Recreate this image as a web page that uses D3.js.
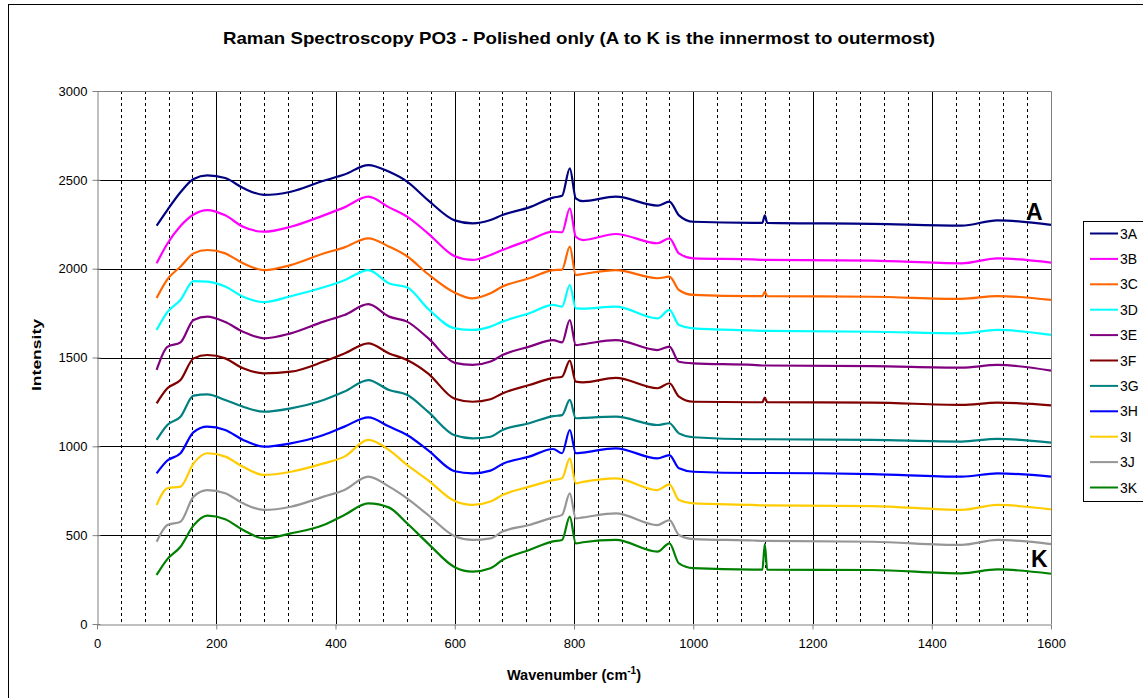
<!DOCTYPE html>
<html><head><meta charset="utf-8">
<script src="https://cdn.jsdelivr.net/npm/d3@7"></script>
<style>body{margin:0;background:#fff;} svg{display:block;font-family:Arial,"Liberation Sans",sans-serif;}</style>
</head><body><svg id="c" width="1143" height="698"></svg>
<script>
const wavenumbers = [100,118,140,162,185,215,245,280,325,380,415,455,490,520,555,600,630,660,680,725,765,780,793,803,815,870,940,960,976,1000,1100,1116,1120,1124,1300,1450,1510,1600];
const s3A = [2242,2330,2430,2505,2525,2510,2454,2415,2433,2495,2530,2583,2545,2490,2386,2272,2255,2274,2302,2345,2400,2410,2565,2396,2380,2405,2355,2377,2300,2264,2258,2258,2300,2258,2252,2242,2272,2246];
const s3B = [2030,2140,2240,2305,2330,2300,2236,2208,2236,2300,2345,2405,2345,2293,2199,2070,2049,2077,2105,2161,2208,2205,2340,2180,2161,2195,2143,2171,2086,2058,2052,2050,2050,2050,2045,2030,2058,2034];
const s3C = [1835,1940,2011,2086,2105,2086,2030,1992,2020,2085,2120,2171,2124,2070,1970,1865,1833,1861,1899,1946,1992,1995,2124,1964,1970,1992,1946,1955,1880,1852,1845,1845,1870,1845,1842,1830,1846,1824];
const s3D = [1655,1755,1824,1930,1927,1899,1842,1812,1845,1895,1935,1992,1917,1895,1775,1664,1655,1674,1702,1749,1796,1786,1908,1777,1775,1786,1720,1768,1683,1664,1652,1650,1650,1650,1645,1636,1655,1627];
const s3E = [1430,1560,1585,1711,1730,1700,1645,1608,1636,1702,1739,1800,1730,1702,1610,1470,1458,1477,1514,1561,1598,1585,1711,1570,1575,1598,1542,1561,1476,1467,1458,1455,1455,1455,1452,1443,1458,1426];
const s3F = [1242,1327,1373,1495,1514,1495,1439,1411,1420,1477,1523,1580,1523,1486,1411,1268,1251,1265,1298,1345,1385,1392,1482,1364,1360,1385,1327,1355,1280,1251,1248,1248,1275,1248,1246,1233,1246,1231];
const s3G = [1036,1120,1167,1285,1292,1261,1223,1195,1214,1261,1308,1373,1317,1290,1195,1062,1045,1054,1092,1130,1170,1176,1261,1158,1160,1167,1120,1130,1073,1051,1040,1040,1040,1040,1036,1027,1042,1021];
const s3H = [848,920,961,1080,1111,1092,1036,998,1017,1064,1111,1163,1111,1064,979,860,848,863,901,942,985,961,1092,961,965,989,932,951,876,857,850,850,850,850,844,829,848,829];
const s3I = [670,764,773,904,961,942,885,839,857,904,942,1036,979,895,810,692,670,689,726,773,810,820,932,792,800,820,754,786,698,679,670,668,668,668,664,642,670,645];
const s3J = [463,557,576,717,754,736,679,642,660,717,754,829,773,707,614,494,473,482,520,557,600,614,735,595,600,623,557,585,501,478,470,468,468,468,463,445,473,450];
const s3K = [276,365,435,555,610,590,529,482,510,557,614,679,655,567,454,320,295,314,360,417,465,473,604,454,460,473,407,454,341,314,306,306,450,306,304,285,307,283];
const seriesNames = ["3A","3B","3C","3D","3E","3F","3G","3H","3I","3J","3K"];
const seriesValues = [s3A,s3B,s3C,s3D,s3E,s3F,s3G,s3H,s3I,s3J,s3K];
const colors = ["#000080","#FF00FF","#FF6600","#00FFFF","#800080","#800000","#008080","#0000FF","#FFCC00","#969696","#008000"];
const yTicks = [0,500,1000,1500,2000,2500,3000];
const xTicks = [0,200,400,600,800,1000,1200,1400,1600];
const xMinor = d3.range(40,1600,40).filter(v => v % 200 !== 0);

const FONT = "Arial,'Liberation Sans',sans-serif";
const svg = d3.select("#c");
svg.append("rect").attr("x",8.5).attr("y",4.5).attr("width",1300).attr("height",900).attr("fill","#fff").attr("stroke","#000");

const L = 97, R = 1051, T = 91, B = 624;
const x = d3.scaleLinear().domain([0,1600]).range([L,R]);
const y = d3.scaleLinear().domain([0,3000]).range([B,T]);

const g = svg.append("g");
g.selectAll("line.minor").data(xMinor).join("line")
  .attr("x1",d=>Math.round(x(d))+0.5).attr("x2",d=>Math.round(x(d))+0.5)
  .attr("y1",T).attr("y2",B).attr("stroke","#000").attr("stroke-width",1).attr("stroke-dasharray","3,3");
g.selectAll("line.maj").data(xTicks.filter(d=>d>0&&d<1600)).join("line")
  .attr("x1",d=>Math.round(x(d))+0.5).attr("x2",d=>Math.round(x(d))+0.5)
  .attr("y1",T).attr("y2",B).attr("stroke","#000").attr("stroke-width",1);
g.selectAll("line.h").data(yTicks.filter(d=>d>0&&d<3000)).join("line")
  .attr("x1",L).attr("x2",R).attr("y1",d=>Math.round(y(d))+0.5).attr("y2",d=>Math.round(y(d))+0.5)
  .attr("stroke","#000").attr("stroke-width",1);
g.append("path").attr("d",`M${L},${T+0.5}H${R+0.5}V${B}`).attr("fill","none").attr("stroke","#808080");

const line = d3.line().x(d=>x(d[0])).y(d=>y(d[1])).curve(d3.curveMonotoneX);
seriesValues.forEach((vals,i)=>{
  const pts = wavenumbers.map((w,j)=>[w,vals[j]]);
  g.append("path").attr("d",line(pts)).attr("fill","none").attr("stroke",colors[i]).attr("stroke-width",2.2).attr("stroke-linejoin","round");
});

const yAxis = d3.axisLeft(y).tickValues(yTicks).tickFormat(d3.format("d")).tickSize(5).tickSizeOuter(0);
const ya = svg.append("g").attr("transform",`translate(${L+0.5},0)`).call(yAxis);
ya.select(".domain").attr("stroke","#808080");
ya.selectAll(".tick line").attr("stroke","#808080").attr("x2",-5).attr("x1",3);
ya.selectAll(".tick text").attr("font-size",13).attr("font-family",FONT).attr("fill","#000").attr("x",-10);
const xAxis = d3.axisBottom(x).tickValues(xTicks).tickFormat(d3.format("d")).tickSize(5).tickSizeOuter(0);
const xa = svg.append("g").attr("transform",`translate(0,${B+0.5})`).call(xAxis);
xa.select(".domain").attr("stroke","#808080");
xa.selectAll(".tick line").attr("stroke","#808080");
xa.selectAll(".tick text").attr("font-size",13).attr("font-family",FONT).attr("fill","#000").attr("y",14);

svg.append("text").attr("x",579).attr("y",44).attr("text-anchor","middle").attr("font-size",17).attr("font-weight","bold")
  .attr("textLength",712).attr("lengthAdjust","spacingAndGlyphs").text("Raman Spectroscopy PO3 - Polished only (A to K is the innermost to outermost)");
svg.append("text").attr("transform","translate(41,355) rotate(-90)").attr("text-anchor","middle").attr("font-size",13).attr("font-weight","bold")
  .attr("textLength",72).attr("lengthAdjust","spacingAndGlyphs").text("Intensity");
const xl = svg.append("text").attr("x",574).attr("y",680).attr("text-anchor","middle").attr("font-size",14.5).attr("font-weight","bold");
xl.append("tspan").text("Wavenumber (cm");
xl.append("tspan").attr("dy",-6).attr("font-size",10).text("-1");
xl.append("tspan").attr("dy",6).text(")");
svg.append("text").attr("x",1026).attr("y",220).attr("font-size",23).attr("font-weight","bold").text("A");
svg.append("text").attr("x",1031).attr("y",567).attr("font-size",23).attr("font-weight","bold").text("K");

const lg = svg.append("g");
lg.append("rect").attr("x",1083.5).attr("y",221.5).attr("width",100).attr("height",280).attr("fill","#fff").attr("stroke","#000");
seriesNames.forEach((n,i)=>{
  const yy = 233.5 + i*25.4;
  lg.append("line").attr("x1",1090).attr("x2",1118).attr("y1",yy).attr("y2",yy).attr("stroke",colors[i]).attr("stroke-width",2);
  lg.append("text").attr("x",1120).attr("y",yy+5).attr("font-size",14).attr("font-family",FONT).text(n);
});
</script></body></html>
